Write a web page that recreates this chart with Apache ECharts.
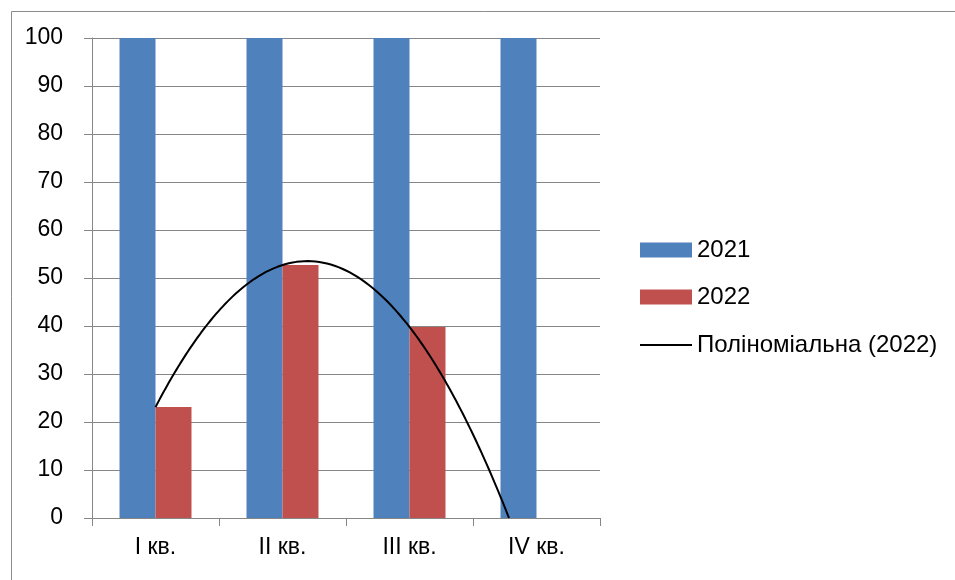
<!DOCTYPE html>
<html>
<head>
<meta charset="utf-8">
<script src="https://cdn.jsdelivr.net/npm/echarts@6/dist/echarts.min.js"></script>
<style>
html,body{margin:0;padding:0;background:#fff;}
#chart{width:955px;height:580px;}
</style>
</head>
<body>
<div id="chart"></div>
<script>
var categories = ['I кв.', 'II кв.', 'III кв.', 'IV кв.'];
var values2021 = [100, 100, 100, 100];
var values2022 = [23.1, 52.7, 39.8, null];
var yTicks = [0, 10, 20, 30, 40, 50, 60, 70, 80, 90, 100];
var trendName = 'Поліноміальна (2022)';

// Polynomial (order 2) least-squares trendline of the 2022 series, as the original chart shows
function quadFit(xs, ys) {
  var n = xs.length, S = [0,0,0,0,0], T = [0,0,0];
  for (var i = 0; i < n; i++) {
    var p = 1;
    for (var k = 0; k < 5; k++) { S[k] += p; if (k < 3) T[k] += p * ys[i]; p *= xs[i]; }
  }
  var M = [[S[0],S[1],S[2],T[0]],[S[1],S[2],S[3],T[1]],[S[2],S[3],S[4],T[2]]];
  for (var c = 0; c < 3; c++) {
    for (var r = c + 1; r < 3; r++) {
      var f = M[r][c] / M[c][c];
      for (var j = c; j < 4; j++) M[r][j] -= f * M[c][j];
    }
  }
  var sol = [0,0,0];
  for (var r2 = 2; r2 >= 0; r2--) {
    var s = M[r2][3];
    for (var j2 = r2 + 1; j2 < 3; j2++) s -= M[r2][j2] * sol[j2];
    sol[r2] = s / M[r2][r2];
  }
  return sol; // c0 + c1 x + c2 x^2
}
var fx = [], fy = [];
values2022.forEach(function (v, i) { if (v !== null) { fx.push(i + 1); fy.push(v); } });
var coef = quadFit(fx, fy);
function poly(x) { return coef[0] + coef[1] * x + coef[2] * x * x; }
var trendData = [];
var xStart = fx[0], xEnd = categories.length;
var steps = 200;
for (var s = 0; s <= steps; s++) {
  var x = xStart + (xEnd - xStart) * s / steps;
  var y = poly(x);
  if (y < 0) {
    var a = coef[2], b = coef[1], c = coef[0];
    var disc = Math.sqrt(b * b - 4 * a * c);
    var root = Math.max((-b - disc) / (2 * a), (-b + disc) / (2 * a));
    trendData.push([root, 0]);
    break;
  }
  trendData.push([x, y]);
}

var chart = echarts.init(document.getElementById('chart'));
var font = 'Liberation Sans';
var legendText = { fontFamily: font, fontSize: 24, color: '#000', lineHeight: 20 };
chart.setOption({
  backgroundColor: '#ffffff',
  animation: false,
  textStyle: { fontFamily: font },
  graphic: [{
    type: 'rect', left: 9, top: 9,
    shape: { width: 1000, height: 1000 },
    style: { fill: 'none', stroke: '#8c8c8c', lineWidth: 1 }
  }],
  grid: { left: 92, right: 355, top: 38, bottom: 62, containLabel: false },
  legend: [{
    orient: 'vertical', left: 635, top: 233,
    itemWidth: 52, itemHeight: 15, itemGap: 23,
    textStyle: legendText,
    data: [
      { name: '2021', icon: 'rect' },
      { name: '2022', icon: 'rect' }
    ]
  }, {
    orient: 'vertical', left: 635, top: 328,
    itemWidth: 52, itemHeight: 2,
    textStyle: legendText,
    data: [{ name: trendName, icon: 'rect' }]
  }],
  xAxis: [{
    type: 'category', data: categories,
    axisLine: { lineStyle: { color: '#868686', width: 1 } },
    axisTick: { show: true, length: 8, lineStyle: { color: '#868686' } },
    axisLabel: { fontFamily: font, fontSize: 23, color: '#000', margin: 18 }
  }, {
    type: 'value', min: 0.5, max: 4.5, show: false, position: 'bottom'
  }],
  yAxis: {
    type: 'value', min: yTicks[0], max: yTicks[yTicks.length - 1], interval: 10,
    axisLine: { show: true, lineStyle: { color: '#868686', width: 1 } },
    axisTick: { show: true, length: 8, lineStyle: { color: '#868686' } },
    splitLine: { lineStyle: { color: '#868686', width: 1 } },
    axisLabel: { fontFamily: font, fontSize: 23, color: '#000', margin: 29 }
  },
  series: [{
    name: '2021', type: 'bar', data: values2021, barWidth: 36, barGap: '0%',
    itemStyle: { color: '#4F81BD' }
  }, {
    name: '2022', type: 'bar', data: values2022, barWidth: 36, barGap: '0%',
    itemStyle: { color: '#C0504D' }
  }, {
    name: trendName, type: 'line', xAxisIndex: 1, data: trendData,
    symbol: 'none', showSymbol: false, smooth: false,
    lineStyle: { color: '#000', width: 2 },
    itemStyle: { color: '#000' }
  }]
});
</script>
</body>
</html>
